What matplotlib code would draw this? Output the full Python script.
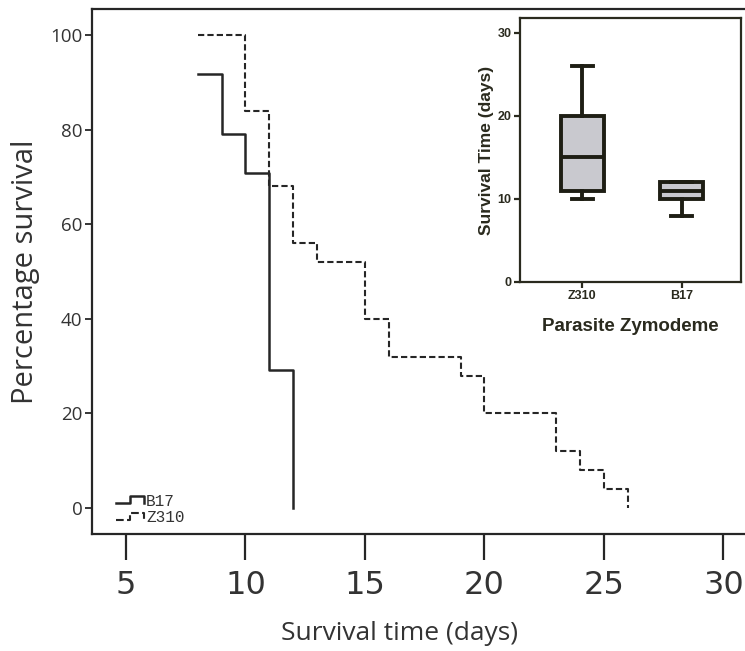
import matplotlib
matplotlib.use('Agg')
import matplotlib.pyplot as plt
from matplotlib.lines import Line2D
from matplotlib.legend_handler import HandlerBase

# Kaplan-Meier curves (percentage survival)
b17_days = [8, 9, 10, 11, 12]
b17_surv = [91.67, 79.17, 70.83, 29.17, 0]
z310_days = [8, 10, 11, 12, 13, 15, 16, 19, 20, 23, 24, 25, 26]
z310_surv = [100, 84, 68, 56, 52, 40, 32, 28, 20, 12, 8, 4, 0]

# inset box plot
box_groups = ['Z310', 'B17']
box_med = [15, 11]
box_q1 = [11, 10]
box_q3 = [20, 12]
box_lo = [10, 8]
box_hi = [26, 12]

x_ticks = [5, 10, 15, 20, 25, 30]
y_ticks = [0, 20, 40, 60, 80, 100]

INK = '#262626'
TXT = '#333333'
INS = '#2a2a1e'


class StepHandler(HandlerBase):
    """Legend glyph drawn as a little step."""
    def create_artists(self, legend, orig, xd, yd, w, h, fontsize, trans):
        xs = [xd, xd + 0.5 * w, xd + 0.5 * w, xd + w, xd + w]
        ys = [yd + 0.25 * h, yd + 0.25 * h, yd + 0.85 * h, yd + 0.85 * h, yd + 0.3 * h]
        ln = Line2D(xs, ys, color=orig.get_color(), lw=orig.get_linewidth(),
                    linestyle=orig.get_linestyle(), transform=trans)
        return [ln]


fig = plt.figure(figsize=(7.45, 6.51), dpi=100)
ax = fig.add_axes([92 / 745, 117 / 651, 700 / 745, 525 / 651])

l1, = ax.step(b17_days, b17_surv, where='post', color=INK, lw=1.8, label='B17')
l2, = ax.step(z310_days, z310_surv, where='post', color=INK, lw=1.5,
              linestyle=(0, (3, 1.5)), label='Z310')

ax.set_xlim(3.58, 3.58 + 700 / 23.9)
ax.set_ylim(-5.5, 105.5)
ax.set_xticks(x_ticks)
ax.set_yticks(y_ticks)
for s in ['left', 'bottom', 'top']:
    ax.spines[s].set_color(INK)
    ax.spines[s].set_linewidth(1.6)
ax.spines['right'].set_visible(False)
ax.tick_params(axis='x', length=19, width=1.6, color=INK, pad=7,
               labelsize=23, labelcolor=TXT)
ax.tick_params(axis='y', length=5, width=1.3, color=INK, pad=2,
               labelsize=13.5, labelcolor=TXT)
for lab in ax.get_yticklabels():
    lab.set_fontfamily('Open Sans')
ax.set_xlabel('Survival time (days)', fontsize=19, family='Open Sans',
              color=TXT, va='center')
ax.xaxis.set_label_coords(0.4386, -0.189)
ax.set_ylabel('Percentage survival', fontsize=21, family='Open Sans',
              color=TXT, labelpad=7)

leg = ax.legend(handles=[l1, l2], loc='lower left', bbox_to_anchor=(0.02, -0.002),
                frameon=False, handler_map={Line2D: StepHandler()},
                prop={'family': 'Liberation Mono', 'size': 11.5},
                handlelength=1.8, handletextpad=0.1, labelspacing=0.1,
                borderaxespad=0.2)
for t in leg.get_texts():
    t.set_color(TXT)

# inset
ins = fig.add_axes([520 / 745, 369 / 651, 221 / 745, 264 / 651])
stats = []
for g, m, q1, q3, lo, hi in zip(box_groups, box_med, box_q1, box_q3, box_lo, box_hi):
    stats.append(dict(label=g, med=m, q1=q1, q3=q3, whislo=lo, whishi=hi, fliers=[]))
ins.bxp(stats, positions=[1, 2], widths=0.44, patch_artist=True, showfliers=False,
        boxprops=dict(facecolor='#c9c9cf', edgecolor='#1e1e14', linewidth=2.8),
        medianprops=dict(color='#1e1e14', linewidth=2.8),
        whiskerprops=dict(color='#1e1e14', linewidth=2.8),
        capprops=dict(color='#1e1e14', linewidth=2.8))
ins.set_xlim(0.37, 2.6)
ins.set_ylim(0, 31.8)
ins.set_yticks([0, 10, 20, 30])
for s in ins.spines.values():
    s.set_color(INS)
    s.set_linewidth(1.6)
ins.tick_params(axis='both', length=4, width=1.6, color=INS, pad=2,
                labelsize=9)
for lab in ins.get_xticklabels() + ins.get_yticklabels():
    lab.set_fontfamily('Liberation Sans')
    lab.set_fontweight('bold')
    lab.set_color(INS)
ins.set_ylabel('Survival Time (days)', fontsize=12.5, family='Liberation Sans',
               fontweight='bold', color=INS, labelpad=3)
ins.set_xlabel('Parasite Zymodeme', fontsize=13.5, family='Liberation Sans',
               fontweight='bold', color=INS, labelpad=11)

fig.savefig('out.png', dpi=100, facecolor='white')
